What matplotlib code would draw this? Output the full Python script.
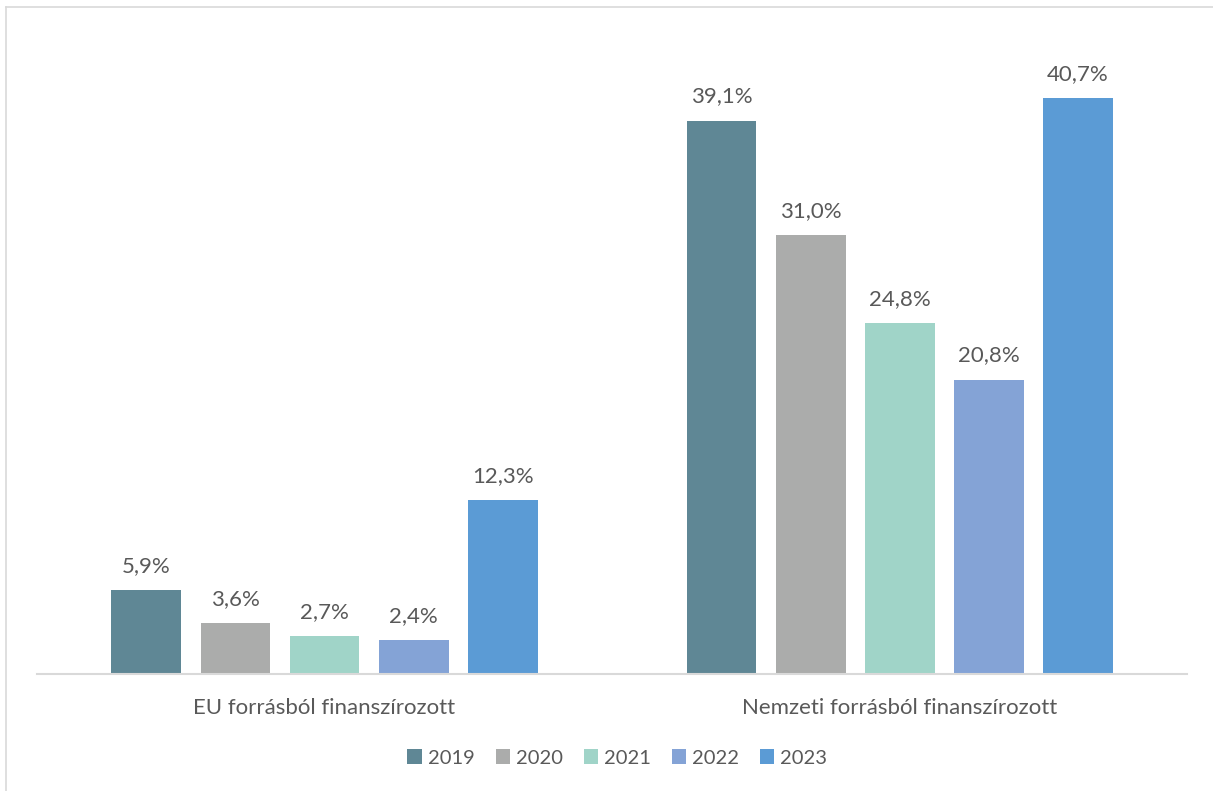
import matplotlib.pyplot as plt
from matplotlib.lines import Line2D
import numpy as np

plt.rcParams['font.family'] = ['Lato', 'DejaVu Sans']

# adatok
categories = ['EU forrásból finanszírozott', 'Nemzeti forrásból finanszírozott']
years = ['2019', '2020', '2021', '2022', '2023']
v2019 = [5.9, 39.1]
v2020 = [3.6, 31.0]
v2021 = [2.7, 24.8]
v2022 = [2.4, 20.8]
v2023 = [12.3, 40.7]
series = [v2019, v2020, v2021, v2022, v2023]
colors = ['#5F8795', '#ABACAB', '#A0D4C8', '#84A3D6', '#5B9BD5']
txt = '#595959'
fs = 16

fig = plt.figure(figsize=(12.13, 7.91), dpi=100)
ax = fig.add_axes([0.0305, 0.1479, 0.9481, 0.8053])

x = np.arange(len(categories))
width = 0.1217
pitch = 0.1548
for i, (vals, c, yr) in enumerate(zip(series, colors, years)):
    pos = x + (i - 2) * pitch
    bars = ax.bar(pos, vals, width, color=c, label=yr)
    for b, v in zip(bars, vals):
        ax.text(b.get_x() + b.get_width() / 2, v + 1.0, f'{v:.1f}%'.replace('.', ','),
                ha='center', va='bottom', fontsize=fs, color=txt)

ax.set_xlim(-0.5, 1.5)
ax.set_ylim(0, 45)
ax.set_yticks([])
ax.set_xticks(x)
ax.set_xticklabels(categories, fontsize=fs, color=txt)
ax.tick_params(axis='x', length=0, pad=17)
for s in ['top', 'right', 'left']:
    ax.spines[s].set_visible(False)
ax.spines['bottom'].set_color('#D9D9D9')
ax.spines['bottom'].set_linewidth(1.5)

ax.legend(loc='center', bbox_to_anchor=(0.509, 1 - 758 / 791), bbox_transform=fig.transFigure,
          ncol=5, frameon=False, fontsize=14.5, labelcolor=txt,
          handlelength=0.7, handleheight=0.7, handletextpad=0.3, columnspacing=1.05)

# keret
fig.add_artist(Line2D([6 / 1213, 6 / 1213], [0, 1 - 7 / 791], color='#D9D9D9', lw=1.2))
fig.add_artist(Line2D([6 / 1213, 1], [1 - 7 / 791, 1 - 7 / 791], color='#D9D9D9', lw=1.2))

fig.savefig('out.png', dpi=100)
